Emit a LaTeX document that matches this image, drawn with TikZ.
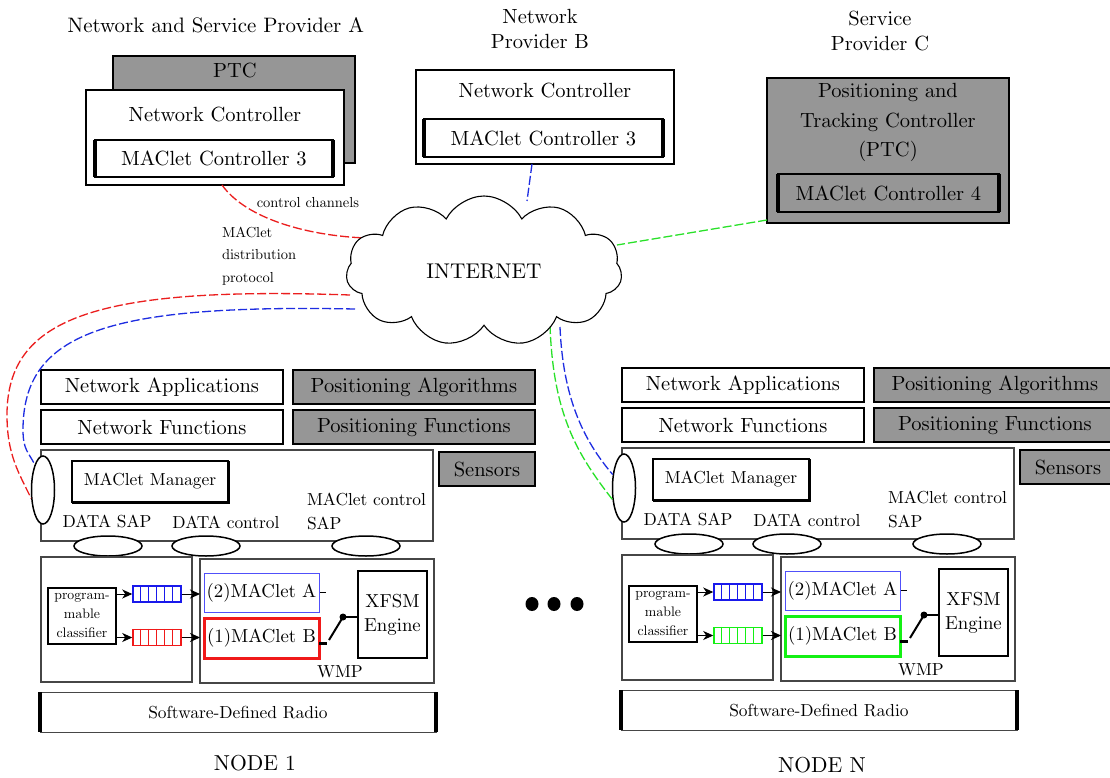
\documentclass[tikz,border=0pt]{standalone}
\usetikzlibrary{shapes.symbols,shapes.geometric,arrows.meta}

\definecolor{ptcgray}{RGB}{150,150,150}
\definecolor{framegray}{RGB}{70,70,70}
\definecolor{qblue}{RGB}{25,25,235}
\definecolor{qred}{RGB}{240,25,25}
\definecolor{qgreen}{RGB}{20,240,20}
\definecolor{softblue}{RGB}{80,80,250}
\definecolor{linkred}{RGB}{235,30,30}
\definecolor{linkblue}{RGB}{30,45,225}
\definecolor{linkgreen}{RGB}{40,225,40}

% text faces at fixed sizes
\font\fnTitle=cmr10 at 20.9pt
\font\fnBig=cmr10 at 20.5pt
\font\fnMac=cmr10 at 18.8pt
\font\fnMid=cmr10 at 17.4pt
\font\fnSmall=cmr10 at 14.5pt
\font\fnTiny=cmr10 at 13.8pt
\font\fnNode=cmr10 at 21.6pt
\font\fnNet=cmr10 at 21.3pt

\tikzset{
  lbl/.style={inner sep=0pt, outer sep=0pt},
  box/.style 2 args={draw, line width=1.3pt, inner sep=0pt, outer sep=0pt,
    minimum width=#1, minimum height=#2},
  graybox/.style 2 args={box={#1}{#2}, fill=ptcgray},
  thinbox/.style 2 args={draw=framegray, line width=1.1pt, inner sep=0pt,
    outer sep=0pt, minimum width=#1, minimum height=#2},
  ctrlbox/.style 2 args={box={#1}{#2}, fill=white, font=\fnBig},
  port/.style={ellipse, draw, line width=1.5pt, fill=white, inner sep=0pt,
    minimum width=23pt, minimum height=68pt},
  sap/.style={ellipse, draw, line width=1.5pt, fill=white, inner sep=0pt,
    minimum width=68pt, minimum height=20pt},
  queue/.style={draw=#1, line width=1.5pt, inner sep=0pt,
    minimum width=48pt, minimum height=16pt},
  arr/.style={line width=1pt, -{Stealth[length=10pt, width=9pt, inset=3pt]}},
  link/.style={line width=1.3pt, dash pattern=on 9pt off 3pt},
  dotc/.style={ellipse, fill, inner sep=0pt, minimum width=13pt, minimum height=14pt}
}

% heavy vertical edges on a box
\newcommand{\heavysides}[2]{%
  \draw[line width=#2] (#1.north west) -- (#1.south west)
                       (#1.north east) -- (#1.south east);}

% one wireless node: protocol stack, MAClet machinery and radio
\newcommand{\nodestack}[2]{%
  \node[box={242}{34}, font=\fnBig] (#2app) at (162,-387) {Network Applications};
  \node[graybox={242}{34}, font=\fnBig] (#2palg) at (414,-387) {Positioning Algorithms};
  \node[box={242}{34}, font=\fnBig] (#2fun) at (162,-427) {Network Functions};
  \node[graybox={242}{34}, font=\fnBig] (#2pfun) at (414,-427) {Positioning Functions};
  \node[graybox={96}{34}, font=\fnBig] (#2sens) at (487,-469) {Sensors};
  \node[thinbox={392}{91}] (#2mac) at (237,-495.5) {};
  \node[box={156}{41}, line width=1.6pt, font=\fnMid] (#2mgr) at (150,-481.5) {MAClet Manager};
  \draw[line width=3pt] (#2mgr.north east) -- (#2mgr.south east) -- (#2mgr.south west);
  \node[port] (#2port) at (43,-490) {};
  \node[lbl, font=\fnMid] (#2dsap) at (107,-522) {DATA SAP};
  \node[lbl, font=\fnMid] (#2dctl) at (226,-522) {DATA control};
  \node[lbl, font={\fnMid\baselineskip=24pt}, align=left, anchor=west] (#2msap) at (307,-511) {MAClet control\\SAP};
  \node[sap] (#2sapa) at (108,-546) {};
  \node[sap] (#2sapb) at (206,-546) {};
  \node[sap] (#2sapc) at (366,-546) {};
  \node[thinbox={151}{125}, line width=1.3pt] (#2cls) at (116.5,-619.5) {};
  \node[thinbox={234}{124}, line width=1.3pt] (#2wmp) at (317,-621) {};
  \node[box={68}{56}, line width=1.1pt, font={\fnTiny\baselineskip=19pt}, align=center] (#2clf) at (82,-616) {program-\\mable\\classifier};
  \node[queue=qblue] (#2qa) at (157,-594) {};
  \node[queue=#1] (#2qb) at (157,-637.5) {};
  \foreach \k in {8,16,24,32,40} {
    \draw[qblue, line width=1.5pt] ([xshift=\k pt]#2qa.north west) -- ([xshift=\k pt]#2qa.south west);
    \draw[#1, line width=1.5pt] ([xshift=\k pt]#2qb.north west) -- ([xshift=\k pt]#2qb.south west);
  }
  \node[box={115}{39}, draw=softblue, line width=1pt, font=\fnMac] (#2ma) at (261.5,-592.5) {(2)MAClet A};
  \node[box={115}{40}, draw=#1, line width=3pt, font=\fnMac] (#2mb) at (261.5,-638) {(1)MAClet B};
  \node[box={69}{87}, line width=2.6pt, font={\fnMac\baselineskip=24pt}, align=center] (#2xfsm) at (392.5,-614.5) {XFSM\\Engine};
  \node[lbl, font=\fnMid] (#2wmplbl) at (340,-672) {WMP};
  \draw[arr] (#2qa.west -| #2clf.east) -- (#2qa.west);
  \draw[arr] (#2qb.west -| #2clf.east) -- (#2qb.west);
  \draw[arr] (#2qa.east) -- (#2qa.east -| #2wmp.west);
  \draw[arr] (#2qb.east) -- (#2qb.east -| #2wmp.west);
  % switch between the MAClets and the engine
  \coordinate (#2pivot) at (343,-617);
  \coordinate (#2lever) at (329,-640);
  \draw[line width=1pt] ([xshift=1pt]#2ma.east) -- ++(6,0);
  \draw[line width=3pt] ([yshift=-5pt]#2mb.east) -- ++(8,0);
  \draw[line width=2pt] (#2lever) -- (#2pivot);
  \draw[line width=2.5pt] (#2pivot) -- (#2pivot -| #2xfsm.west);
  \fill (#2pivot) circle (3.5);
  \node[box={396}{40}, draw=framegray, line width=1pt, font=\fnMid] (#2sdr) at (238,-712) {Software-Defined Radio};
  \heavysides{#2sdr}{4pt}
}

\begin{document}
\begin{tikzpicture}[x=1pt, y=1pt]
\useasboundingbox (0,0) rectangle (1110,-778);
\fill[white] (0,0) rectangle (1110,-778);

% provider A
\node[lbl, font=\fnTitle] (provA) at (216,-25) {Network and Service Provider A};
\node[graybox={242}{107}] (ptcA) at (234,-109.5) {};
\node[lbl, font=\fnBig] (ptcAtxt) at (235,-70) {PTC};
\node[box={258}{95}, fill=white] (ncA) at (215,-137.5) {};
\node[lbl, font=\fnBig] (ncAtxt) at (215,-114) {Network Controller};
\node[ctrlbox={238}{37}] (mcA) at (214,-158.5) {MAClet Controller 3};
\heavysides{mcA}{3.5pt}

% provider B
\node[lbl, font={\fnBig\baselineskip=25pt}, align=center] (provB) at (540,-28.5) {Network\\Provider B};
\node[box={258}{94}, fill=white] (ncB) at (545,-117) {};
\node[lbl, font=\fnBig] (ncBtxt) at (545,-90) {Network Controller};
\node[ctrlbox={239}{38}] (mcB) at (543.5,-138) {MAClet Controller 3};
\heavysides{mcB}{3.5pt}

% provider C
\node[lbl, font={\fnBig\baselineskip=25pt}, align=center] (provC) at (880,-30.5) {Service\\Provider C};
\node[graybox={242}{145}] (ptcC) at (888,-150.5) {};
\node[lbl, font={\fnBig\baselineskip=29.5pt}, align=center] (ptcCtxt) at (888,-122.5) {Positioning and\\Tracking Controller\\(PTC)};
\node[ctrlbox={221}{38}, fill=ptcgray] (mcC) at (888.5,-193) {MAClet Controller 4};
\heavysides{mcC}{3.5pt}

% the two wireless nodes
\nodestack{qred}{n1}
\begin{scope}[shift={(581,2)}]
  \nodestack{qgreen}{nN}
\end{scope}
\node[lbl, font=\fnNode] (nodeone) at (255,-763) {NODE 1};
\node[lbl, font=\fnNode] (nodeenn) at (822,-765) {NODE N};
\node[dotc] (dota) at (532,-604) {};
\node[dotc] (dotb) at (554,-604) {};
\node[dotc] (dotc) at (577,-604) {};

% attachment points on the internet cloud
\coordinate (inetA) at (366,-238);
\coordinate (inetB) at (527,-201);
\coordinate (inetC) at (617,-245);
\coordinate (inetD) at (350,-295);
\coordinate (inetE) at (355,-309);
\coordinate (inetF) at (550,-325);
\coordinate (inetG) at (560,-327);
\coordinate (bendR) at (7,-415);
\coordinate (bendB) at (23,-430);

% control channels
\draw[link, linkred] ([xshift=7pt]ncA.south) .. controls +(25,-35) and +(-55,2) .. (inetA);
\draw[link, linkblue] ([xshift=-13pt]ncB.south) -- (inetB);
\draw[link, linkgreen] ([yshift=3pt]ptcC.south west) -- (inetC);

% MAClet distribution protocol
\draw[link, linkred] (inetD) .. controls +(-257,9) and +(0,96) .. (bendR)
  .. controls +(0,-40) and +(-12,25) .. (n1port.215);
\draw[link, linkblue] (inetE) .. controls +(-249,5) and +(0,97) .. (bendB)
  .. controls +(0,-20) and +(-6,12) .. (n1port.108);
\draw[link, linkgreen] (inetF) .. controls +(3,-90) and +(-35,45) .. (nNport.225);
\draw[link, linkblue] (inetG) .. controls +(3,-70) and +(-30,35) .. (nNport.130);

\node[cloud, cloud puffs=11, cloud puff arc=125, aspect=1.85, draw, line width=1.1pt,
  fill=white, minimum width=276pt, minimum height=150pt, inner sep=0pt,
  font=\fnNet] (inet) at (484,-271) {INTERNET};

\node[lbl, font=\fnSmall] (ccl) at (308,-202) {control channels};
\node[lbl, font={\fnSmall\baselineskip=22.5pt}, align=left, anchor=west] (mdp) at (222,-256) {MAClet\\distribution\\protocol};
\end{tikzpicture}
\end{document}
